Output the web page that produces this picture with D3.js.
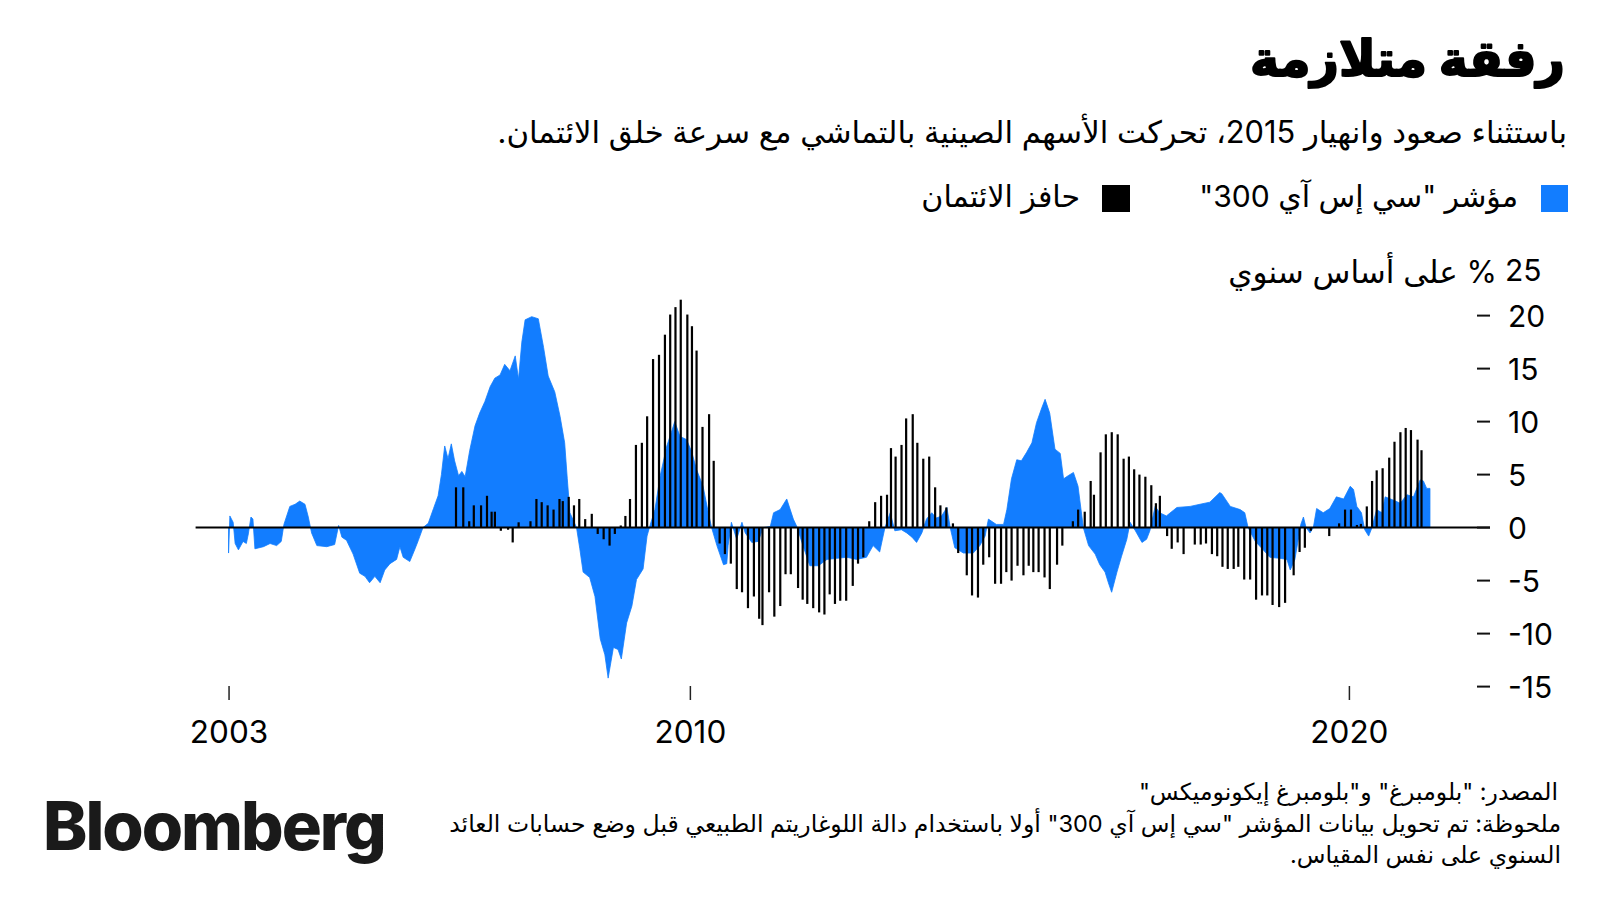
<!DOCTYPE html>
<html><head><meta charset="utf-8">
<script src="https://cdn.jsdelivr.net/npm/d3@7"></script>
<style>body{margin:0;background:#fff}</style>
</head><body>
<svg id="c" width="1600" height="900"></svg>
<script>
// ---------------- DATA ----------------
const csiYears = [2003.00,2003.02,2003.07,2003.10,2003.15,2003.22,2003.27,2003.30,2003.34,2003.37,2003.40,2003.53,2003.63,2003.73,2003.80,2003.84,2003.93,2004.01,2004.08,2004.16,2004.21,2004.26,2004.34,2004.49,2004.61,2004.67,2004.72,2004.79,2004.89,2004.99,2005.07,2005.14,2005.22,2005.30,2005.37,2005.45,2005.55,2005.60,2005.65,2005.75,2005.83,2005.88,2005.95,2006.03,2006.11,2006.18,2006.23,2006.28,2006.33,2006.38,2006.43,2006.49,2006.54,2006.59,2006.66,2006.74,2006.81,2006.89,2006.97,2007.04,2007.12,2007.19,2007.27,2007.35,2007.40,2007.45,2007.50,2007.60,2007.70,2007.78,2007.85,2007.95,2008.03,2008.10,2008.14,2008.18,2008.28,2008.33,2008.38,2008.48,2008.56,2008.64,2008.71,2008.76,2008.84,2008.91,2008.96,2009.04,2009.12,2009.19,2009.29,2009.35,2009.40,2009.47,2009.55,2009.65,2009.72,2009.77,2009.85,2009.95,2010.03,2010.10,2010.20,2010.28,2010.33,2010.41,2010.51,2010.56,2010.58,2010.63,2010.71,2010.79,2010.84,2010.94,2011.04,2011.11,2011.22,2011.27,2011.37,2011.47,2011.57,2011.63,2011.70,2011.82,2011.95,2012.08,2012.23,2012.38,2012.53,2012.68,2012.78,2012.88,2012.96,2013.04,2013.11,2013.21,2013.29,2013.37,2013.44,2013.52,2013.59,2013.67,2013.74,2013.82,2013.90,2013.95,2014.02,2014.15,2014.30,2014.40,2014.48,2014.53,2014.65,2014.76,2014.81,2014.88,2014.96,2015.03,2015.11,2015.19,2015.26,2015.34,2015.39,2015.46,2015.54,2015.62,2015.67,2015.74,2015.82,2015.89,2015.97,2016.05,2016.15,2016.22,2016.30,2016.35,2016.40,2016.48,2016.55,2016.63,2016.68,2016.76,2016.86,2016.93,2016.98,2017.06,2017.13,2017.23,2017.39,2017.59,2017.74,2017.89,2018.04,2018.07,2018.20,2018.35,2018.42,2018.47,2018.58,2018.70,2018.80,2018.95,2019.06,2019.11,2019.18,2019.23,2019.27,2019.31,2019.35,2019.41,2019.46,2019.51,2019.61,2019.71,2019.81,2019.92,2020.02,2020.07,2020.12,2020.19,2020.24,2020.30,2020.35,2020.42,2020.50,2020.55,2020.67,2020.78,2020.88,2020.98,2021.08,2021.13,2021.18,2021.23];
const csiValues = [-2.4,1.1,0.5,-1.5,-2.1,-1.3,-1.5,-0.6,1.0,0.8,-2.0,-1.8,-1.5,-1.7,-1.3,0.3,2.0,2.2,2.5,2.2,1.0,-0.5,-1.7,-1.8,-1.6,0.2,-0.9,-1.2,-2.5,-4.3,-4.6,-5.2,-4.6,-5.2,-4.0,-3.4,-3.0,-1.8,-2.8,-3.2,-2.0,-1.2,0.0,0.4,1.8,3.0,5.0,7.7,6.5,7.9,6.3,4.9,5.3,4.8,7.3,9.6,10.8,11.9,13.3,14.1,14.4,15.4,14.8,16.2,14.0,17.5,19.6,19.9,19.7,17.0,14.3,12.8,10.5,8.0,4.6,1.4,0.0,-2.0,-4.2,-4.7,-6.5,-10.5,-12.0,-14.2,-11.3,-11.5,-12.4,-9.0,-7.4,-4.9,-3.9,-0.8,0.3,1.7,4.9,7.7,9.0,10.0,8.6,8.3,7.1,5.5,3.9,1.4,0.0,-1.7,-3.5,-3.4,-1.7,0.5,-1.1,0.5,-0.5,-1.4,-1.3,0.0,0.1,1.4,1.7,2.7,0.8,0.0,-1.4,-3.6,-3.6,-3.0,-2.9,-2.8,-3.0,-2.8,-1.7,-2.3,0.0,1.4,-0.3,-0.2,-0.5,-0.9,-1.4,-0.5,0.8,1.4,0.9,1.1,1.9,0.0,-1.9,-2.4,-2.4,-1.7,-0.8,0.8,0.3,0.3,1.7,4.6,6.4,6.3,7.1,8.0,9.9,11.3,12.1,10.8,7.4,7.0,4.6,4.9,5.2,3.9,0.0,-1.7,-2.5,-3.5,-4.2,-5.2,-6.1,-4.2,-2.7,-1.1,0.5,-0.3,-1.4,-1.1,-0.3,2.0,1.4,1.1,1.9,2.0,2.2,2.4,3.3,3.2,2.0,1.7,1.4,0.0,-1.3,-2.1,-2.8,-2.9,-3.0,-4.0,-3.0,-1.2,0.3,1.0,0.0,-0.5,0.0,1.8,1.4,1.8,2.9,2.7,3.9,3.6,2.0,1.4,-0.2,-0.8,0.0,1.7,1.4,2.9,2.6,2.3,3.1,2.9,4.5,4.4,3.7,3.7];

const creditYears = [2006.45,2006.56,2006.65,2006.72,2006.83,2006.92,2006.99,2007.04,2007.13,2007.24,2007.31,2007.40,2007.58,2007.67,2007.75,2007.84,2007.93,2008.02,2008.07,2008.16,2008.24,2008.32,2008.41,2008.51,2008.60,2008.69,2008.78,2008.86,2008.95,2009.02,2009.09,2009.18,2009.27,2009.35,2009.44,2009.53,2009.62,2009.70,2009.78,2009.86,2009.96,2010.03,2010.10,2010.19,2010.29,2010.36,2010.45,2010.53,2010.62,2010.71,2010.79,2010.88,2010.97,2011.05,2011.10,2011.20,2011.28,2011.37,2011.45,2011.53,2011.64,2011.71,2011.78,2011.87,2011.96,2012.04,2012.12,2012.20,2012.28,2012.37,2012.47,2012.55,2012.63,2012.72,2012.81,2012.90,2012.99,2013.05,2013.12,2013.21,2013.28,2013.38,2013.45,2013.54,2013.63,2013.72,2013.80,2013.89,2013.99,2014.07,2014.20,2014.28,2014.37,2014.45,2014.54,2014.63,2014.72,2014.80,2014.88,2014.97,2015.06,2015.14,2015.21,2015.29,2015.38,2015.46,2015.57,2015.65,2015.81,2015.89,2015.99,2016.08,2016.13,2016.23,2016.31,2016.40,2016.49,2016.58,2016.66,2016.74,2016.82,2016.91,2017.00,2017.07,2017.13,2017.24,2017.31,2017.40,2017.49,2017.66,2017.75,2017.83,2017.92,2018.00,2018.08,2018.16,2018.25,2018.32,2018.41,2018.50,2018.59,2018.68,2018.76,2018.84,2018.94,2019.03,2019.16,2019.25,2019.33,2019.42,2019.70,2019.85,2019.94,2020.03,2020.12,2020.18,2020.27,2020.35,2020.42,2020.51,2020.61,2020.69,2020.78,2020.86,2020.94,2021.04,2021.10];
const creditValues = [3.8,3.8,0.6,2.1,2.1,3.0,1.5,1.5,-0.3,-0.2,-1.4,0.5,0.6,2.7,2.4,2.1,1.7,2.7,2.5,2.9,2.1,2.7,0.8,1.3,-0.6,-1.1,-1.7,-0.6,0.2,1.1,2.7,7.8,8.0,10.5,15.9,16.3,18.2,20.1,20.8,21.5,20.1,19.0,16.7,9.5,10.7,6.3,-1.5,-2.5,-3.4,-5.8,-6.1,-7.6,-6.5,-8.6,-9.2,-6.1,-8.4,-7.4,-4.4,-4.4,-5.7,-6.8,-7.2,-7.6,-8.0,-8.2,-6.3,-7.2,-6.9,-6.9,-5.5,-3.4,-2.8,0.6,2.4,3.0,3.1,7.5,6.7,7.8,10.3,10.7,8.0,6.5,6.7,3.8,2.1,1.9,0.4,-2.4,-4.5,-6.4,-6.6,-3.5,-2.8,-5.3,-5.3,-4.2,-5.0,-3.6,-4.5,-3.6,-4.2,-4.2,-4.7,-5.8,-3.5,-1.7,0.6,1.7,1.5,4.4,3.1,7.1,8.8,9.0,8.8,6.5,6.7,5.5,5.0,4.8,4.0,2.3,3.0,-0.8,-2.0,-1.4,-2.5,-1.6,-1.6,-1.5,-2.5,-2.7,-3.7,-3.9,-3.9,-3.7,-4.9,-4.9,-6.8,-6.4,-6.4,-7.3,-7.5,-7.1,-4.5,-2.3,-1.9,-0.3,-0.8,0.4,1.7,1.7,0.25,0.35,2.0,4.4,5.4,5.6,6.6,8.1,9.0,9.4,9.2,8.3,7.3];

const yTicks = [20, 15, 10, 5, 0, -5, -10, -15];
const yTopLabel = "25";
const xTicks = [2003, 2010, 2020];

const titleText = "رفقة متلازمة";
const subtitleText = "باستثناء صعود وانهيار 2015، تحركت الأسهم الصينية بالتماشي مع سرعة خلق الائتمان.";
const legendLabels = ["مؤشر \"سي إس آي 300\"", "حافز الائتمان"];
const unitText = "% على أساس سنوي";
const footerLines = [
  "المصدر: \"بلومبرغ\" و\"بلومبرغ إيكونوميكس\"",
  "ملحوظة: تم تحويل بيانات المؤشر \"سي إس آي 300\" أولا باستخدام دالة اللوغاريتم الطبيعي قبل وضع حسابات العائد",
  "السنوي على نفس المقياس."
];
const logoText = "Bloomberg";

// ---------------- STYLE ----------------
const BLUE = "#127dff";
const FONT = "Inter, 'DejaVu Sans', sans-serif";

const svg = d3.select("#c");
svg.append("rect").attr("width", 1600).attr("height", 900).attr("fill", "#fff");

const x = d3.scaleLinear().domain([2002.5, 2022.15]).range([195.6, 1490.6]);
const y = d3.scaleLinear().domain([-15, 25]).range([686.6, 262.6]);

const csi = csiYears.map((t, i) => ({t, v: csiValues[i]}));
const credit = creditYears.map((t, i) => ({t, v: creditValues[i]}));

// area
const area = d3.area().x(d => x(d.t)).y0(y(0)).y1(d => y(d.v)).curve(d3.curveLinear);
svg.append("path").datum(csi).attr("d", area).attr("fill", BLUE)
  .attr("stroke", BLUE).attr("stroke-width", 0.8);

// bars
svg.append("g").selectAll("rect").data(credit).join("rect")
  .attr("x", d => x(d.t) - 1)
  .attr("width", 2.2)
  .attr("y", d => Math.min(y(d.v), y(0)))
  .attr("height", d => Math.abs(y(d.v) - y(0)))
  .attr("fill", "#000");

// zero line
svg.append("line").attr("x1", x(2002.5)).attr("x2", 1490).attr("y1", y(0)).attr("y2", y(0))
  .attr("stroke", "#000").attr("stroke-width", 2);

// y axis
const yAxis = d3.axisRight(y).tickValues(yTicks).tickSize(0).tickPadding(0).tickFormat(d3.format("d"));
const yg = svg.append("g").attr("transform", "translate(1508,0)").call(yAxis);
yg.select(".domain").remove();
yg.selectAll("text").attr("font-family", FONT).attr("font-size", 30).attr("fill", "#000")
  .attr("x", 0).attr("dy", "0.36em").text(d => String(d).replace("-", "-"));
svg.append("g").selectAll("line").data(yTicks).join("line")
  .attr("x1", 1477).attr("x2", 1490).attr("y1", d => y(d)).attr("y2", d => y(d))
  .attr("stroke", "#111").attr("stroke-width", 2);
svg.append("text").text(yTopLabel).attr("x", 1505).attr("y", y(25) + 8).attr("dy", "0.36em")
  .attr("font-family", FONT).attr("font-size", 30).attr("fill", "#000");

// x axis
const xAxis = d3.axisBottom(x).tickValues(xTicks).tickSize(14).tickPadding(21).tickFormat(d3.format("d"));
const xg = svg.append("g").attr("transform", "translate(0,686)").call(xAxis);
xg.select(".domain").remove();
xg.selectAll(".tick line").attr("stroke", "#222").attr("stroke-width", 1.5);
xg.selectAll("text").attr("font-family", FONT).attr("font-size", 31.5).attr("fill", "#000");

// RTL text helper
function rtlText(str, rightX, baseY, size, weight) {
  const t = svg.append("text").text(str).attr("x", 0).attr("y", baseY)
    .attr("font-family", FONT).attr("font-size", size).attr("font-weight", weight || 400)
    .attr("fill", "#000").style("direction", "rtl").attr("text-anchor", "start");
  return t;
}
function fitWidth(t, w) {
  const b = t.node().getBBox();
  const s = parseFloat(t.attr("font-size")) * w / b.width;
  t.attr("font-size", s);
  return s;
}
function alignRight(t, rightX) {
  const b = t.node().getBBox();
  t.attr("x", parseFloat(t.attr("x")) + rightX - (b.x + b.width));
}

// title
const tt = rtlText(titleText, 0, 76, 44, 700);
tt.attr("stroke", "#000").attr("stroke-width", 2).attr("stroke-linejoin", "round");
fitWidth(tt, 315); alignRight(tt, 1565);

// subtitle
const st = rtlText(subtitleText, 0, 143, 26, 400);
fitWidth(st, 1070); alignRight(st, 1567);

// legend
svg.append("rect").attr("x", 1541).attr("y", 185).attr("width", 27).attr("height", 27).attr("fill", BLUE);
svg.append("rect").attr("x", 1102).attr("y", 185).attr("width", 28).attr("height", 27).attr("fill", "#000");
const l1 = rtlText(legendLabels[0], 0, 207, 28, 400);
const ls = fitWidth(l1, 319); alignRight(l1, 1518);
const l2 = rtlText(legendLabels[1], 0, 207, ls, 400);
alignRight(l2, 1080);

// unit
const ut = rtlText(unitText, 0, 283, 28, 400);
fitWidth(ut, 269); alignRight(ut, 1497);

// footer
const f2 = rtlText(footerLines[1], 0, 832, 22, 400);
const fs = fitWidth(f2, 1112); alignRight(f2, 1561);
const f1 = rtlText(footerLines[0], 0, 800, fs, 400); alignRight(f1, 1558);
const f3 = rtlText(footerLines[2], 0, 863, fs, 400); alignRight(f3, 1561);

// logo
const lg = svg.append("text").text(logoText).attr("x", 43).attr("y", 850)
  .attr("font-family", "Inter, 'Liberation Sans', sans-serif").attr("font-weight", 800)
  .attr("font-size", 64).attr("fill", "#1a1a1a").attr("letter-spacing", -2);
{
  const b = lg.node().getBBox();
  lg.attr("font-size", 64 * 341 / b.width);
  const b2 = lg.node().getBBox();
  lg.attr("x", 43 - (b2.x - 43));
}
</script>
</body></html>
